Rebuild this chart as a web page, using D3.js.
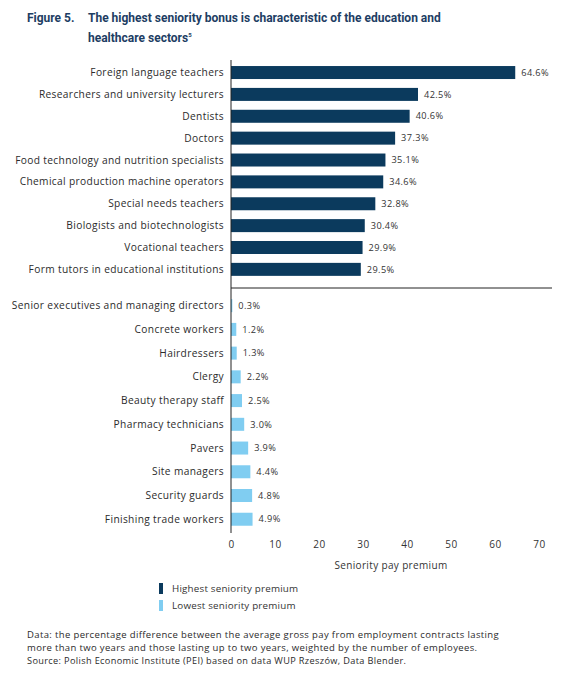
<!DOCTYPE html>
<html>
<head>
<meta charset="utf-8">
<script src="https://cdn.jsdelivr.net/npm/d3@7"></script>
<style>
  body { margin: 0; background: #fff; }
  svg { display: block; font-family: "Open Sans", sans-serif; }
</style>
</head>
<body>
<svg id="chart" width="578" height="684"></svg>
<script>
"use strict";

const topJobs = [
  'Foreign language teachers',
  'Researchers and university lecturers',
  'Dentists',
  'Doctors',
  'Food technology and nutrition specialists',
  'Chemical production machine operators',
  'Special needs teachers',
  'Biologists and biotechnologists',
  'Vocational teachers',
  'Form tutors in educational institutions'
];
const topValues = [64.6, 42.5, 40.6, 37.3, 35.1, 34.6, 32.8, 30.4, 29.9, 29.5];

const lowJobs = [
  'Senior executives and managing directors',
  'Concrete workers',
  'Hairdressers',
  'Clergy',
  'Beauty therapy staff',
  'Pharmacy technicians',
  'Pavers',
  'Site managers',
  'Security guards',
  'Finishing trade workers'
];
const lowValues = [0.3, 1.2, 1.3, 2.2, 2.5, 3.0, 3.9, 4.4, 4.8, 4.9];

const xTicks = [0, 10, 20, 30, 40, 50, 60, 70];
const seriesNames = ['Highest seniority premium', 'Lowest seniority premium'];
const seriesColors = ['#0b3a5d', '#80cdf1'];

const svg = d3.select('#chart');

/*-- Title ---------------------------------------------------------------*/
const title = svg.append('g')
    .attr('fill', '#1d3d63')
    .style('font-family', 'Roboto, sans-serif')
    .style('font-weight', 700)
    .style('font-size', '12px');

title.append('text').attr('x', 27).attr('y', 22).text('Figure 5.');
title.append('text').attr('x', 88).attr('y', 22)
     .text('The highest seniority bonus is characteristic of the education and');
const line2 = title.append('text').attr('x', 88).attr('y', 42);
line2.append('tspan').text('healthcare sectors');
line2.append('tspan').attr('dy', -5).style('font-size', '6px').text('5');

/*-- Scales --------------------------------------------------------------*/
const x = d3.scaleLinear().domain([0, 70]).range([231, 539]);

const yTop = d3.scaleBand()
    .domain(topJobs)
    .range([61.6, 280.3])
    .paddingInner(0.406)
    .paddingOuter(0.203);

const yLow = d3.scaleBand()
    .domain(lowJobs)
    .range([293.8, 531.1])
    .paddingInner(0.452)
    .paddingOuter(0.226);

const drawGroup = function(jobs, values, yScale, color){
    const rows = jobs.map((d, i) => ({job: d, value: values[i]}));

    const g = svg.append('g');
    g.selectAll('rect')
     .data(rows)
     .enter()
     .append('rect')
     .attr('x', x(0))
     .attr('y', d => yScale(d.job))
     .attr('width', d => x(d.value) - x(0))
     .attr('height', yScale.bandwidth())
     .attr('fill', color);

    g.selectAll('text.val')
     .data(rows)
     .enter()
     .append('text')
     .attr('class', 'val')
     .attr('x', d => x(d.value) + 6)
     .attr('y', d => yScale(d.job) + yScale.bandwidth() / 2)
     .attr('dy', '0.35em')
     .attr('fill', '#333')
     .style('font-size', '9.2px')
     .style('letter-spacing', '0.4px')
     .text(d => d.value.toFixed(1) + '%');

    g.selectAll('text.cat')
     .data(rows)
     .enter()
     .append('text')
     .attr('class', 'cat')
     .attr('x', 224)
     .attr('y', d => yScale(d.job) + yScale.bandwidth() / 2)
     .attr('dy', '0.35em')
     .attr('text-anchor', 'end')
     .attr('fill', '#2b2b2b')
     .style('font-size', '10.2px')
     .style('letter-spacing', '0.35px')
     .text(d => d.job);
};

drawGroup(topJobs, topValues, yTop, seriesColors[0]);
drawGroup(lowJobs, lowValues, yLow, seriesColors[1]);

/*-- Axes ----------------------------------------------------------------*/
svg.append('line')
   .attr('x1', x(0)).attr('x2', x(0))
   .attr('y1', 60).attr('y2', 533)
   .attr('stroke', '#222').attr('stroke-width', 1);

// separator between the two groups
svg.append('line')
   .attr('x1', x(0)).attr('x2', 552)
   .attr('y1', 288).attr('y2', 288)
   .attr('stroke', '#222').attr('stroke-width', 1);

const xAxis = svg.append('g')
    .attr('transform', 'translate(0,541)')
    .call(d3.axisBottom(x).tickValues(xTicks).tickSize(0).tickPadding(0));
xAxis.select('.domain').remove();
xAxis.selectAll('text')
     .attr('fill', '#333')
     .style('font-family', '"Open Sans", sans-serif')
     .style('font-size', '10px')
     .style('letter-spacing', '0.5px');

svg.append('text')
   .attr('x', 391).attr('y', 569)
   .attr('text-anchor', 'middle')
   .attr('fill', '#333')
   .style('font-size', '10px')
   .style('letter-spacing', '0.35px')
   .text('Seniority pay premium');

/*-- Legend --------------------------------------------------------------*/
const legend = svg.append('g')
    .selectAll('g')
    .data(seriesNames)
    .enter()
    .append('g')
    .attr('transform', (d, i) => 'translate(159,' + (583 + i * 17) + ')');

legend.append('rect')
      .attr('width', 4).attr('height', 11)
      .attr('fill', (d, i) => seriesColors[i]);

legend.append('text')
      .attr('x', 13).attr('y', 5.5)
      .attr('dy', '0.35em')
      .attr('fill', '#333')
      .style('font-size', '9.8px')
      .style('letter-spacing', '0.2px')
      .text(d => d);

/*-- Notes ---------------------------------------------------------------*/
const notes = svg.append('g')
    .attr('fill', '#2b2b2b')
    .style('font-size', '9.5px')
    .style('letter-spacing', '0.35px');

notes.append('text')
     .attr('x', 27).attr('y', 638)
     .attr('textLength', 472)
     .attr('lengthAdjust', 'spacing')
     .text('Data: the percentage difference between the average gross pay from employment contracts lasting');
notes.append('text')
     .attr('x', 27).attr('y', 651)
     .text('more than two years and those lasting up to two years, weighted by the number of employees.');
notes.append('text')
     .attr('x', 27).attr('y', 664)
     .style('font-size', '9.2px')
     .text('Source: Polish Economic Institute (PEI) based on data WUP Rzeszów, Data Blender.');
</script>
</body>
</html>
